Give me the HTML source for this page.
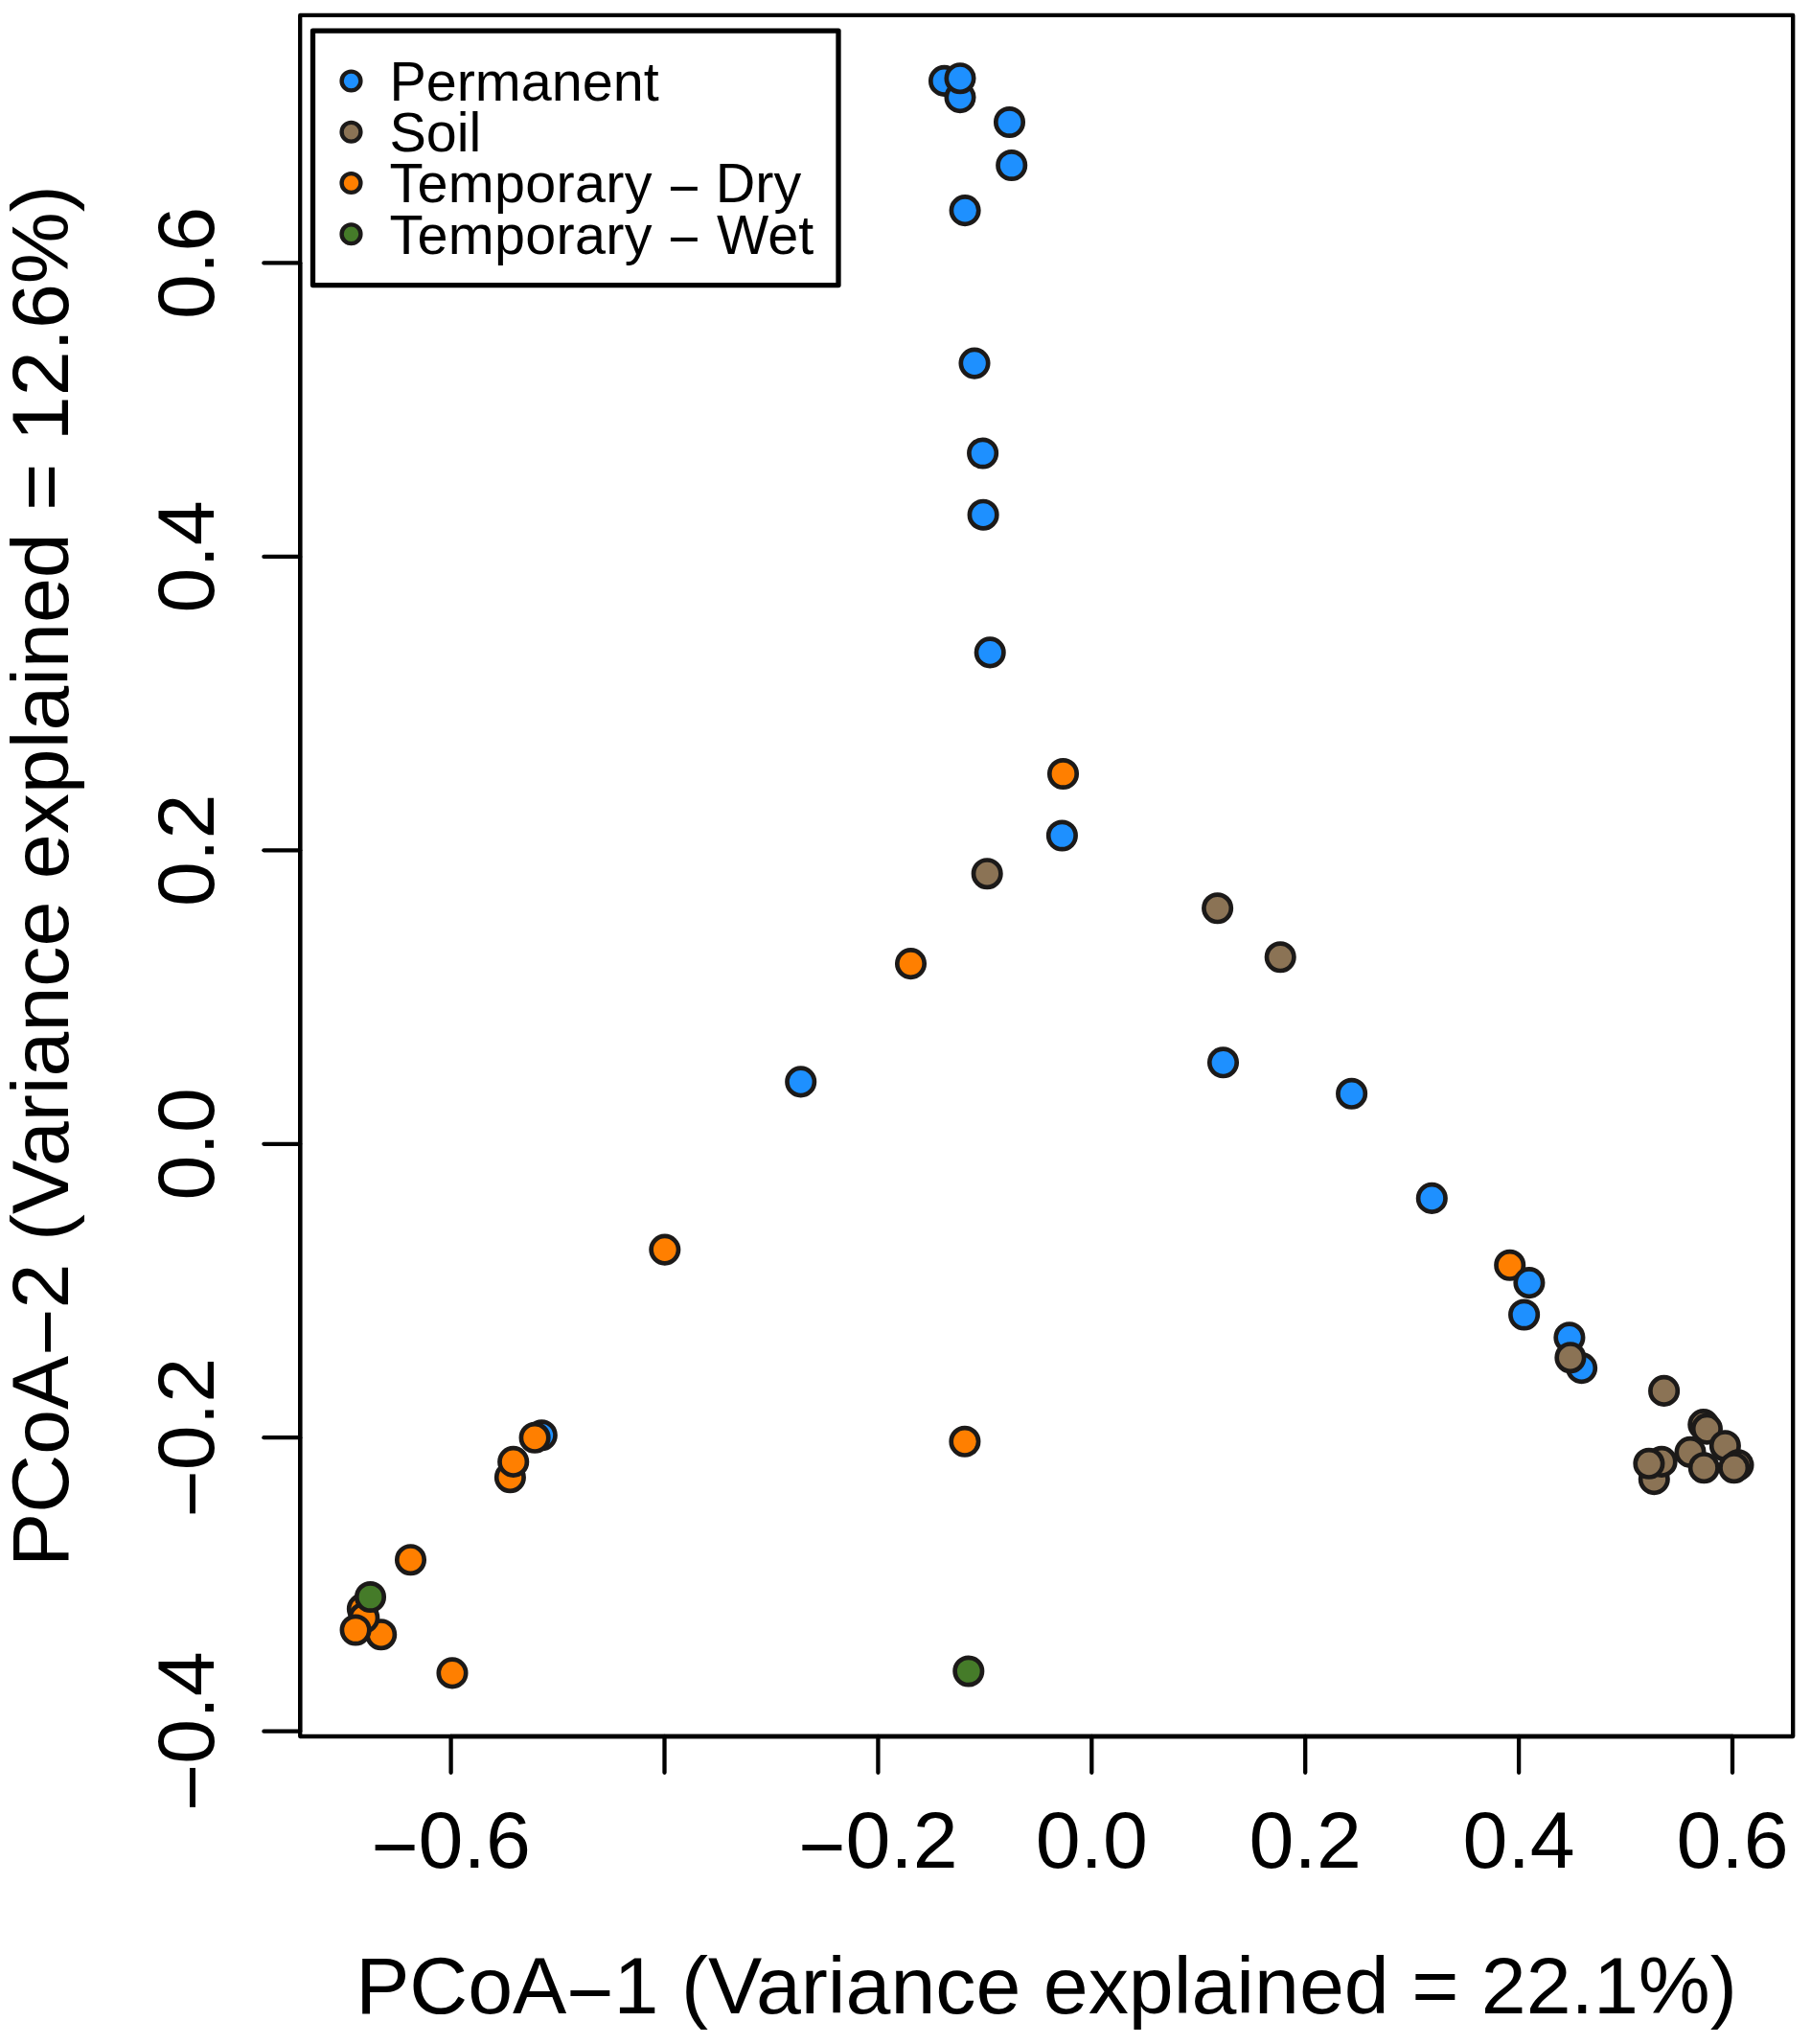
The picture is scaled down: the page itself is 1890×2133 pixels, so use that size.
<!DOCTYPE html>
<html lang="en"><head><meta charset="utf-8"><title>PCoA</title>
<style>html,body{margin:0;padding:0;background:#fff}svg{display:block}text{font-family:"Liberation Sans",Arial,Helvetica,sans-serif;fill:#000}</style></head><body>
<svg width="1890" height="2133" viewBox="0 0 1890 2133">
<rect width="1890" height="2133" fill="#fff"/>
<g stroke="#1C1A19" stroke-width="4.7">
<circle cx="985.5" cy="84.4" r="14.2" fill="#1E90FF"/>
<circle cx="1002" cy="101.6" r="14.2" fill="#1E90FF"/>
<circle cx="1002" cy="81.7" r="14.2" fill="#1E90FF"/>
<circle cx="1053.5" cy="127.5" r="14.2" fill="#1E90FF"/>
<circle cx="1055.7" cy="172.5" r="14.2" fill="#1E90FF"/>
<circle cx="1007.1" cy="219.6" r="14.2" fill="#1E90FF"/>
<circle cx="1017" cy="379.1" r="14.2" fill="#1E90FF"/>
<circle cx="1025.6" cy="473" r="14.2" fill="#1E90FF"/>
<circle cx="1026.1" cy="537.2" r="14.2" fill="#1E90FF"/>
<circle cx="1033.2" cy="680.9" r="14.2" fill="#1E90FF"/>
<circle cx="1109.5" cy="807.5" r="14.2" fill="#FF7F00"/>
<circle cx="1108.4" cy="872" r="14.2" fill="#1E90FF"/>
<circle cx="1030.2" cy="911.7" r="14.2" fill="#8B7355"/>
<circle cx="950.5" cy="1005.6" r="14.2" fill="#FF7F00"/>
<circle cx="835.7" cy="1128.9" r="14.2" fill="#1E90FF"/>
<circle cx="1270.6" cy="947.8" r="14.2" fill="#8B7355"/>
<circle cx="1336.2" cy="998.8" r="14.2" fill="#8B7355"/>
<circle cx="1276.5" cy="1108.8" r="14.2" fill="#1E90FF"/>
<circle cx="1410.6" cy="1141.3" r="14.2" fill="#1E90FF"/>
<circle cx="1494.3" cy="1250.4" r="14.2" fill="#1E90FF"/>
<circle cx="1575.7" cy="1320.3" r="14.2" fill="#FF7F00"/>
<circle cx="1595.9" cy="1338.6" r="14.2" fill="#1E90FF"/>
<circle cx="1590.6" cy="1372" r="14.2" fill="#1E90FF"/>
<circle cx="1637.9" cy="1395.8" r="14.2" fill="#1E90FF"/>
<circle cx="1650.6" cy="1427.6" r="14.2" fill="#1E90FF"/>
<circle cx="1638.9" cy="1416.7" r="14.2" fill="#8B7355"/>
<circle cx="1736.6" cy="1451.4" r="14.2" fill="#8B7355"/>
<circle cx="1777.8" cy="1486.6" r="14.2" fill="#8B7355"/>
<circle cx="1781.4" cy="1491.1" r="14.2" fill="#8B7355"/>
<circle cx="1800.4" cy="1508.7" r="14.2" fill="#8B7355"/>
<circle cx="1764" cy="1515.4" r="14.2" fill="#8B7355"/>
<circle cx="1814" cy="1528.7" r="14.2" fill="#8B7355"/>
<circle cx="1809.7" cy="1531.7" r="14.2" fill="#8B7355"/>
<circle cx="1778.3" cy="1531.7" r="14.2" fill="#8B7355"/>
<circle cx="1726.3" cy="1543.6" r="14.2" fill="#8B7355"/>
<circle cx="1734.1" cy="1525.4" r="14.2" fill="#8B7355"/>
<circle cx="1720.9" cy="1527.3" r="14.2" fill="#8B7355"/>
<circle cx="565.3" cy="1497.8" r="14.2" fill="#1E90FF"/>
<circle cx="558.1" cy="1500.3" r="14.2" fill="#FF7F00"/>
<circle cx="532.4" cy="1541.7" r="14.2" fill="#FF7F00"/>
<circle cx="535.7" cy="1525.4" r="14.2" fill="#FF7F00"/>
<circle cx="428.5" cy="1627.7" r="14.2" fill="#FF7F00"/>
<circle cx="472" cy="1745.9" r="14.2" fill="#FF7F00"/>
<circle cx="378.4" cy="1678.9" r="14.2" fill="#FF7F00"/>
<circle cx="397.7" cy="1705.7" r="14.2" fill="#FF7F00"/>
<circle cx="379.8" cy="1688.3" r="14.2" fill="#FF7F00"/>
<circle cx="371.1" cy="1701" r="14.2" fill="#FF7F00"/>
<circle cx="386.5" cy="1666.5" r="14.2" fill="#457B29"/>
<circle cx="693.8" cy="1304.1" r="14.2" fill="#FF7F00"/>
<circle cx="1006.9" cy="1504.3" r="14.2" fill="#FF7F00"/>
<circle cx="1010.8" cy="1744" r="14.2" fill="#457B29"/>
</g>
<g stroke="#000" stroke-width="4.3" stroke-linecap="round" fill="none">
<path d="M470.6 1812.0H1808.0"/>
<path d="M470.6 1812.0V1849.8"/>
<path d="M693.5 1812.0V1849.8"/>
<path d="M916.4 1812.0V1849.8"/>
<path d="M1139.3 1812.0V1849.8"/>
<path d="M1362.2 1812.0V1849.8"/>
<path d="M1585.1 1812.0V1849.8"/>
<path d="M1808.0 1812.0V1849.8"/>
<path d="M313.2 1806.7V274.4"/>
<path d="M313.2 274.4H275.4"/>
<path d="M313.2 580.9H275.4"/>
<path d="M313.2 887.3H275.4"/>
<path d="M313.2 1193.8H275.4"/>
<path d="M313.2 1500.2H275.4"/>
<path d="M313.2 1806.7H275.4"/>
</g>
<rect x="313.2" y="15.9" width="1558.0" height="1796.1" fill="none" stroke="#000" stroke-width="4.3" stroke-linejoin="round"/>
<g font-size="84.3" text-anchor="middle">
<text x="470.6" y="1949"><tspan dy="6.7">−</tspan><tspan dy="-6.7">0.6</tspan></text>
<text x="916.4" y="1949"><tspan dy="6.7">−</tspan><tspan dy="-6.7">0.2</tspan></text>
<text x="1139.3" y="1949">0.0</text>
<text x="1362.2" y="1949">0.2</text>
<text x="1585.1" y="1949">0.4</text>
<text x="1808.0" y="1949">0.6</text>
<text transform="translate(222.5 274.4) rotate(-90)">0.6</text>
<text transform="translate(222.5 580.9) rotate(-90)">0.4</text>
<text transform="translate(222.5 887.3) rotate(-90)">0.2</text>
<text transform="translate(222.5 1193.8) rotate(-90)">0.0</text>
<text transform="translate(222.5 1500.2) rotate(-90)"><tspan dy="6.7">−</tspan><tspan dy="-6.7">0.2</tspan></text>
<text transform="translate(222.5 1806.7) rotate(-90)"><tspan dy="6.7">−</tspan><tspan dy="-6.7">0.4</tspan></text>
<text x="1092" y="2101.4">PCoA<tspan dy="6.7">−</tspan><tspan dy="-6.7">1 (Variance explained = 22.1%)</tspan></text>
<text transform="translate(70.8 914) rotate(-90)">PCoA<tspan dy="6.7">−</tspan><tspan dy="-6.7">2 (Variance explained = 12.6%)</tspan></text>
</g>
<rect x="326.5" y="32.1" width="548.5" height="265.5" fill="#fff" stroke="#000" stroke-width="5.3" stroke-linejoin="round"/>
<g stroke="#1C1A19" stroke-width="4.4">
<circle cx="366.5" cy="84.5" r="9.9" fill="#1E90FF"/>
<circle cx="366.5" cy="137.75" r="9.9" fill="#8B7355"/>
<circle cx="366.5" cy="191.0" r="9.9" fill="#FF7F00"/>
<circle cx="366.5" cy="244.25" r="9.9" fill="#457B29"/>
</g>
<g font-size="57.5">
<text x="406.4" y="105.0">Permanent</text>
<text x="406.4" y="158.2">Soil</text>
<text x="406.4" y="211.4"><tspan letter-spacing="0.3">Temporary</tspan> <tspan x="696.9" dy="4.57">− </tspan><tspan x="746.8" dy="-4.57">Dry</tspan></text>
<text x="406.4" y="264.6"><tspan letter-spacing="0.3">Temporary</tspan> <tspan x="696.9" dy="4.57">− </tspan><tspan x="748.0" dy="-4.57">Wet</tspan></text>
</g>
</svg></body></html>
